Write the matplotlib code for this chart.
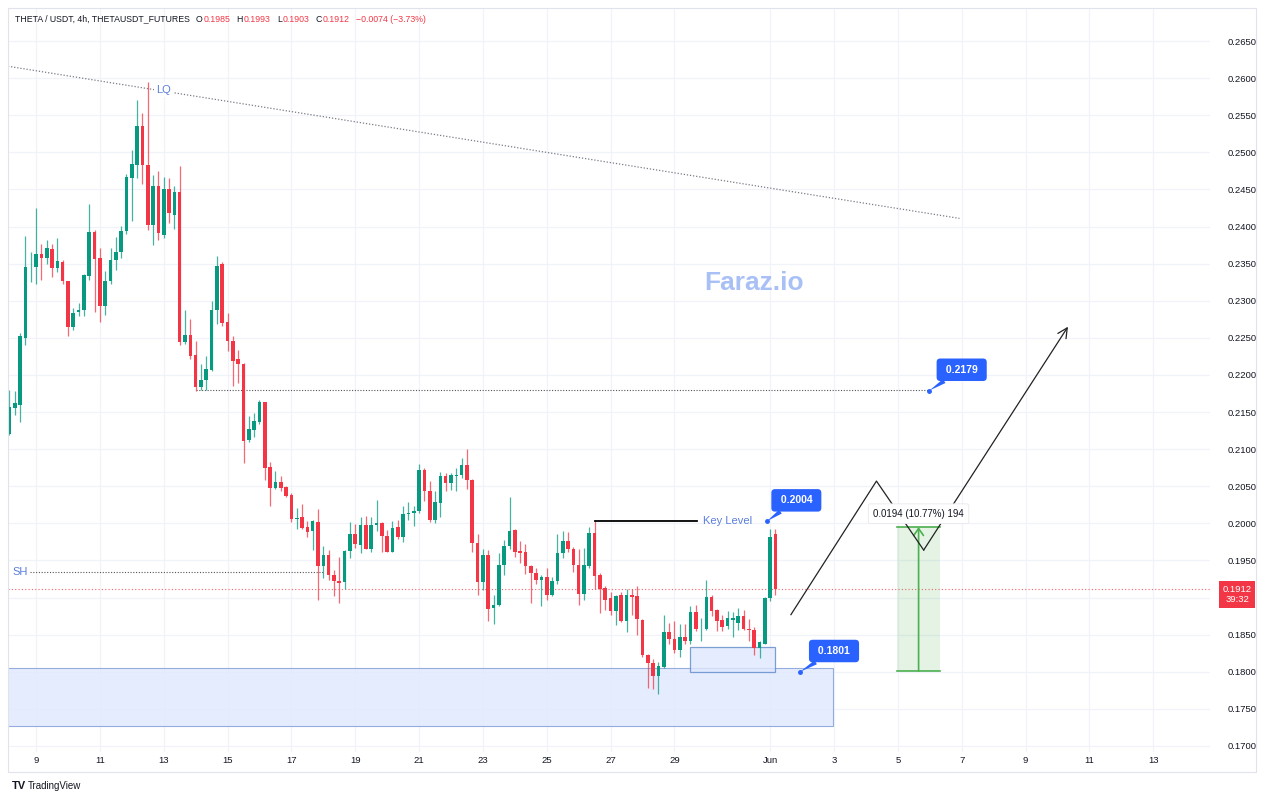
import numpy as np
import matplotlib.pyplot as plt
from matplotlib.patches import Rectangle

plt.rcParams['font.family'] = ['Liberation Sans', 'DejaVu Sans']

# 4h candles, May 8 04:00 -> Jun 1 04:00 (x axis in "days of May")
opens = [0.2121, 0.2156, 0.2160, 0.2250, 0.2345, 0.2345, 0.2363, 0.2357, 0.2370, 0.2344,
         0.2352, 0.2326, 0.2264, 0.2285, 0.2287, 0.2334, 0.2393, 0.2357, 0.2293, 0.2326,
         0.2355, 0.2366, 0.2394, 0.2466, 0.2483, 0.2536, 0.2483, 0.2402, 0.2455, 0.2389,
         0.2451, 0.2416, 0.2446, 0.2245, 0.2254, 0.2227, 0.2184, 0.2193, 0.2207, 0.2287,
         0.2350, 0.2272, 0.2246, 0.2221, 0.2215, 0.2112, 0.2126, 0.2136, 0.2163, 0.2076,
         0.2047, 0.2056, 0.2049, 0.2038, 0.2006, 0.2008, 0.1995, 0.1990, 0.2002, 0.1943,
         0.1957, 0.1931, 0.1923, 0.1921, 0.1963, 0.1985, 0.1971, 0.1998, 0.1966, 0.1998,
         0.2000, 0.1983, 0.1962, 0.1995, 0.1981, 0.2012, 0.2014, 0.2017, 0.2072, 0.2044,
         0.2004, 0.2028, 0.2064, 0.2054, 0.2064, 0.2065, 0.2079, 0.2059, 0.1974, 0.1921,
         0.1958, 0.1886, 0.1890, 0.1944, 0.1970, 0.1991, 0.1963, 0.1961, 0.1943, 0.1933,
         0.1924, 0.1928, 0.1903, 0.1922, 0.1960, 0.1976, 0.1966, 0.1944, 0.1905, 0.1943,
         0.1987, 0.1930, 0.1913, 0.1900, 0.1882, 0.1903, 0.1869, 0.1903, 0.1902, 0.1870,
         0.1822, 0.1812, 0.1794, 0.1806, 0.1853, 0.1844, 0.1829, 0.1847, 0.1841, 0.1881,
         0.1857, 0.1858, 0.1901, 0.1883, 0.1870, 0.1862, 0.1870, 0.1866, 0.1875, 0.1858,
         0.1856, 0.1832, 0.1838, 0.1900, 0.1985]
highs = [0.2180, 0.2178, 0.2257, 0.2387, 0.2366, 0.2425, 0.2376, 0.2382, 0.2377, 0.2385,
         0.2355, 0.2327, 0.2290, 0.2297, 0.2336, 0.2430, 0.2395, 0.2371, 0.2340, 0.2371,
         0.2386, 0.2401, 0.2471, 0.2503, 0.2570, 0.2553, 0.2595, 0.2470, 0.2475, 0.2467,
         0.2466, 0.2455, 0.2482, 0.2287, 0.2276, 0.2246, 0.2215, 0.2225, 0.2300, 0.2360,
         0.2352, 0.2283, 0.2252, 0.2234, 0.2216, 0.2145, 0.2149, 0.2166, 0.2164, 0.2083,
         0.2071, 0.2064, 0.2051, 0.2041, 0.2021, 0.2026, 0.2003, 0.2004, 0.2020, 0.1969,
         0.1964, 0.1937, 0.1955, 0.1964, 0.2002, 0.1999, 0.2009, 0.2010, 0.2009, 0.2032,
         0.2002, 0.1991, 0.2003, 0.2005, 0.2024, 0.2029, 0.2024, 0.2080, 0.2074, 0.2057,
         0.2043, 0.2069, 0.2068, 0.2068, 0.2074, 0.2088, 0.2100, 0.2060, 0.1986, 0.1966,
         0.1964, 0.1903, 0.1960, 0.1978, 0.2036, 0.1993, 0.1976, 0.1972, 0.1944, 0.1940,
         0.1930, 0.1940, 0.1928, 0.1986, 0.1990, 0.1989, 0.1968, 0.1966, 0.1967, 0.1995,
         0.2003, 0.1933, 0.1916, 0.1908, 0.1904, 0.1908, 0.1912, 0.1911, 0.1915, 0.1871,
         0.1824, 0.1817, 0.1813, 0.1876, 0.1866, 0.1869, 0.1865, 0.1865, 0.1889, 0.1890,
         0.1872, 0.1924, 0.1903, 0.1885, 0.1877, 0.1882, 0.1881, 0.1886, 0.1883, 0.1871,
         0.1861, 0.1842, 0.1901, 0.1993, 0.1993]
lows = [0.2119, 0.2146, 0.2137, 0.2240, 0.2325, 0.2323, 0.2328, 0.2350, 0.2332, 0.2339,
        0.2322, 0.2253, 0.2260, 0.2279, 0.2280, 0.2328, 0.2285, 0.2272, 0.2281, 0.2322,
        0.2342, 0.2357, 0.2390, 0.2407, 0.2465, 0.2457, 0.2395, 0.2375, 0.2382, 0.2385,
        0.2405, 0.2397, 0.2241, 0.2242, 0.2222, 0.2178, 0.2180, 0.2180, 0.2206, 0.2269,
        0.2266, 0.2232, 0.2185, 0.2189, 0.2081, 0.2109, 0.2116, 0.2134, 0.2058, 0.2023,
        0.2046, 0.2043, 0.2035, 0.2002, 0.1992, 0.1992, 0.1981, 0.1964, 0.1897, 0.1927,
        0.1924, 0.1902, 0.1893, 0.1911, 0.1953, 0.1967, 0.1960, 0.1965, 0.1962, 0.1990,
        0.1961, 0.1961, 0.1961, 0.1979, 0.1975, 0.2005, 0.1996, 0.2014, 0.2030, 0.2002,
        0.2000, 0.2008, 0.2043, 0.2045, 0.2043, 0.2061, 0.2046, 0.1962, 0.1903, 0.1910,
        0.1868, 0.1865, 0.1888, 0.1930, 0.1965, 0.1955, 0.1947, 0.1932, 0.1893, 0.1918,
        0.1888, 0.1897, 0.1902, 0.1918, 0.1953, 0.1961, 0.1934, 0.1890, 0.1897, 0.1940,
        0.1911, 0.1879, 0.1883, 0.1877, 0.1863, 0.1867, 0.1853, 0.1876, 0.1850, 0.1820,
        0.1778, 0.1777, 0.1770, 0.1805, 0.1838, 0.1825, 0.1820, 0.1838, 0.1838, 0.1855,
        0.1842, 0.1856, 0.1875, 0.1855, 0.1855, 0.1857, 0.1847, 0.1856, 0.1856, 0.1841,
        0.1822, 0.1819, 0.1838, 0.1895, 0.1903]
closes = [0.2157, 0.2162, 0.2252, 0.2345, 0.2346, 0.2363, 0.2358, 0.2371, 0.2344, 0.2353,
          0.2326, 0.2264, 0.2284, 0.2288, 0.2335, 0.2393, 0.2356, 0.2293, 0.2326, 0.2355,
          0.2366, 0.2394, 0.2467, 0.2484, 0.2536, 0.2483, 0.2402, 0.2454, 0.2391, 0.2451,
          0.2418, 0.2446, 0.2245, 0.2254, 0.2226, 0.2184, 0.2193, 0.2208, 0.2288, 0.2347,
          0.2270, 0.2246, 0.2219, 0.2215, 0.2111, 0.2127, 0.2138, 0.2163, 0.2075, 0.2048,
          0.2056, 0.2048, 0.2037, 0.2006, 0.2007, 0.1994, 0.1988, 0.2003, 0.1943, 0.1957,
          0.1930, 0.1922, 0.1920, 0.1963, 0.1985, 0.1972, 0.1998, 0.1966, 0.1998, 0.2001,
          0.1983, 0.1962, 0.1994, 0.1981, 0.2012, 0.2014, 0.2017, 0.2072, 0.2044, 0.2004,
          0.2029, 0.2064, 0.2054, 0.2065, 0.2065, 0.2079, 0.2059, 0.1974, 0.1921, 0.1958,
          0.1885, 0.1890, 0.1944, 0.1970, 0.1990, 0.1962, 0.1960, 0.1943, 0.1933, 0.1924,
          0.1928, 0.1903, 0.1922, 0.1960, 0.1976, 0.1965, 0.1944, 0.1905, 0.1944, 0.1987,
          0.1929, 0.1911, 0.1897, 0.1882, 0.1902, 0.1869, 0.1903, 0.1901, 0.1871, 0.1823,
          0.1812, 0.1794, 0.1808, 0.1853, 0.1844, 0.1829, 0.1847, 0.1842, 0.1880, 0.1857,
          0.1858, 0.1901, 0.1882, 0.1869, 0.1861, 0.1872, 0.1873, 0.1875, 0.1858, 0.1856,
          0.1832, 0.1840, 0.1900, 0.1981, 0.1912]

first_bar = 8 + 4 / 24
bar_step = 4 / 24

date_ticks = [9, 11, 13, 15, 17, 19, 21, 23, 25, 27, 29, 32, 34, 36, 38, 40, 42, 44]
date_labels = ['9', '11', '13', '15', '17', '19', '21', '23', '25', '27', '29',
               'Jun', '3', '5', '7', '9', '11', '13']
price_ticks = np.arange(0.1700, 0.26501, 0.005)

last_price = 0.1912
key_level = 0.2004
target_level = 0.2179
support_level = 0.1801
sh_level = 0.1935
zone_low, zone_high = 0.1727, 0.1805
box_low, box_high = 0.1800, 0.1834
trend_x, trend_y = [8.12, 37.93], [0.2616, 0.2411]
path_x = [32.65, 35.33, 36.81, 41.33]
path_y = [0.1877, 0.2057, 0.1964, 0.2265]
measure_low, measure_high = 0.1801, 0.1995

UP = '#089981'
DOWN = '#f23645'
BLUE = '#2962ff'
LBLUE = '#5b7fdc'
MGREEN = '#4caf50'
TXT = '#131722'

o, h, l, c = map(np.array, (opens, highs, lows, closes))
x = first_bar + np.arange(len(o)) * bar_step
col = np.where(c >= o, UP, DOWN)

fig = plt.figure(figsize=(12.65, 8), dpi=100)
ax = fig.add_axes([8 / 1265, 1 - 752 / 800, 1202 / 1265, 744 / 800])
ax.set_xlim(8.121, 45.78)
ax.set_ylim(0.16919, 0.26945)

ax.set_xticks(date_ticks)
ax.set_xticklabels(date_labels)
ax.set_yticks(price_ticks)
# the 0.1900 label sits under the last-price tag
ax.set_yticklabels(['' if abs(p - 0.19) < 1e-6 else f'{p:.4f}' for p in price_ticks])
ax.yaxis.tick_right()
ax.tick_params(axis='y', length=0, pad=13, labelsize=6.8, labelcolor=TXT)
ax.tick_params(axis='x', length=0, pad=3, labelsize=6.8, labelcolor=TXT)
ax.grid(True, color='#f0f3fa', lw=0.9)
ax.set_axisbelow(True)
for s in ax.spines.values():
    s.set_visible(False)

# candles
ax.vlines(x, l, h, colors=col, lw=0.9, alpha=0.75, zorder=3)
body = np.maximum(np.abs(c - o), 0.00006)
ax.bar(x, body, bottom=np.minimum(o, c), width=bar_step * 0.68, color=col, zorder=4)

# zones
ax.add_patch(Rectangle((7.5, zone_low), 33.98 - 7.5, zone_high - zone_low,
                       fc='#dfe8fd', ec='#7d9ad6', lw=0.8, alpha=0.8, zorder=2))
ax.add_patch(Rectangle((29.50, box_low), 32.15 - 29.50, box_high - box_low,
                       fc='#dfe8fd', ec='#5d89c9', lw=0.9, alpha=0.8, zorder=2))

# lines
ax.axhline(last_price, color=DOWN, lw=0.8, ls=(0, (1, 2)), alpha=0.8, zorder=2)
ax.plot(trend_x, trend_y, color='#787b86', lw=0.9, ls=(0, (1, 1.5)), zorder=2)
ax.text(12.99, 0.2584, 'LQ', color=LBLUE, fontsize=8, ha='center', va='center',
        bbox=dict(fc='white', ec='none', pad=1.5), zorder=3)
ax.plot([14.0, 36.99], [target_level + 0.0001, target_level + 0.0001], color='#555',
        lw=0.8, ls=(0, (1, 1.5)), zorder=2)
ax.plot([8.81, 17.98], [sh_level, sh_level], color='#555', lw=0.8, ls=(0, (1, 1.5)), zorder=2)
ax.text(8.50, sh_level, 'SH', color=LBLUE, fontsize=8, ha='center', va='center')
ax.plot([26.5, 29.72], [key_level - 0.0001, key_level - 0.0001], color='black', lw=1.3, zorder=3)
ax.text(29.91, key_level - 0.0001, 'Key Level', color=LBLUE, fontsize=8, ha='left', va='center')

# callouts
def callout(text, xy, xytext):
    ax.annotate(f' {text} ', xy=xy, xytext=xytext, ha='center', va='center',
                color='white', fontsize=7.5, fontweight='bold', zorder=7,
                bbox=dict(boxstyle='round,pad=0.6,rounding_size=0.35', fc=BLUE, ec='none'),
                arrowprops=dict(arrowstyle='wedge,tail_width=0.45,shrink_factor=0.5',
                                fc=BLUE, ec='none', shrinkA=0, shrinkB=0))
    ax.plot(*xy, 'o', ms=2.5, color=BLUE, zorder=7)

callout('0.2179', (36.99, target_level), (38.0, 0.2207))
callout('0.2004', (31.90, key_level - 0.0001), (32.82, 0.2031))
callout('0.1801', (32.94, support_level - 0.0001), (34.0, 0.1828))

# projected path
ax.plot(path_x[:3], path_y[:3], color='#222', lw=0.9, zorder=5)
ax.annotate('', xy=(path_x[3], path_y[3]), xytext=(path_x[2], path_y[2]),
            arrowprops=dict(arrowstyle='->,head_length=0.7,head_width=0.35', color='#222',
                            lw=0.9, shrinkA=0, shrinkB=0), zorder=5)

# measurement
ax.add_patch(Rectangle((35.97, measure_low), 37.33 - 35.97, measure_high - measure_low,
                       fc=MGREEN, alpha=0.15, ec='none', zorder=2))
ax.plot([35.97, 37.33], [measure_low, measure_low], color=MGREEN, lw=1.2, zorder=4)
ax.plot([35.97, 37.33], [measure_high, measure_high], color=MGREEN, lw=1.2, zorder=4)
ax.annotate('', xy=(36.65, measure_high), xytext=(36.65, measure_low),
            arrowprops=dict(arrowstyle='->,head_length=0.5,head_width=0.35', color=MGREEN,
                            lw=1.2, shrinkA=0, shrinkB=0), zorder=4)
diff = measure_high - measure_low
ax.text(36.65, 0.2013, f'{diff:.4f} ({diff / measure_low * 100:.2f}%) {round(diff * 10000)}',
        fontsize=7, color=TXT, ha='center', va='center', zorder=8,
        bbox=dict(boxstyle='round,pad=0.5,rounding_size=0.2', fc='white', ec='#e8e8ee', lw=0.6))

# watermark
ax.text(31.5, 0.2324, 'Faraz.io', fontsize=19, fontweight='bold', color='#a9c0f7',
        ha='center', va='center', zorder=1)

# last price tag
ax.annotate(f'{last_price:.4f}\n39:32', xy=(1.0225, last_price - 0.0008),
            xycoords=('axes fraction', 'data'), ha='center', va='center', fontsize=6.8,
            color='white', linespacing=1.25, annotation_clip=False,
            bbox=dict(boxstyle='square,pad=0.35', fc=DOWN, ec='none'))

# header: pieces chained one after another
hy = 1 - 19 / 800
parts = [('O', TXT, 4), ('0.1985', DOWN, 0), ('H', TXT, 4), ('0.1993', DOWN, 0),
         ('L', TXT, 4), ('0.1903', DOWN, 0), ('C', TXT, 4), ('0.1912', DOWN, 0),
         ('\u22120.0074 (\u22123.73%)', DOWN, 4)]
prev = fig.text(15 / 1265, hy, 'THETA / USDT, 4h, THETAUSDT_FUTURES', fontsize=6.3,
                color=TXT, ha='left', va='center')
for t, cc, gap in parts:
    prev = ax.annotate(t, xy=(1, 0.5), xycoords=prev, xytext=(gap + 0.5, 0),
                       textcoords='offset points', fontsize=6.3, color=cc, ha='left',
                       va='center', annotation_clip=False)

# frame and footer
fig.add_artist(Rectangle((8 / 1265, 1 - 772 / 800), 1248 / 1265, 764 / 800,
                         transform=fig.transFigure, fill=False, ec='#e0e3eb', lw=0.8))
fig.text(12 / 1265, 1 - 786 / 800, 'TV', fontsize=8, fontweight='bold', color=TXT, va='center')
fig.text(28 / 1265, 1 - 786 / 800, 'TradingView', fontsize=7, color=TXT, va='center')

fig.savefig('out.png', dpi=100)
